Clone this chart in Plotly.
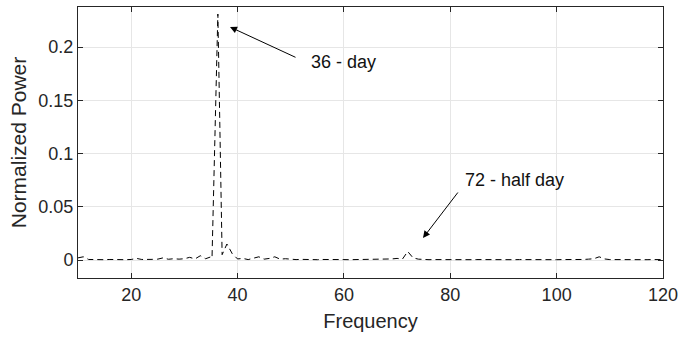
import plotly.graph_objects as go

freq = [10, 11, 12, 13, 14, 15, 16, 17, 18, 19, 20, 21, 22, 23, 24, 25, 26, 27, 28, 29,
        30, 31, 32, 33, 34, 35, 35.2, 36.3, 37.1, 38, 39, 40, 41, 42, 43, 44, 45, 46, 47, 48, 49,
        50, 51, 52, 53, 54, 55, 56, 57, 58, 59, 60, 61, 62, 63, 64, 65, 66, 67, 68, 69,
        70, 71, 72, 73, 74, 75, 76, 77, 78, 79, 80, 81, 82, 83, 84, 85, 86, 87, 88, 89,
        90, 91, 92, 93, 94, 95, 96, 97, 98, 99, 100, 101, 102, 103, 104, 105, 106, 107, 108, 109,
        110, 111, 112, 113, 114, 115, 116, 117, 118, 119, 120]
power = [0.002, 0.003, 0.0005, 0.0003, 0.0004, 0.0003, 0.0005, 0.0003, 0.0004, 0.0003, 0.0005, 0.0015, 0.0005, 0.0003, 0.0006, 0.0008, 0.002, 0.0007, 0.0012, 0.0008,
         0.0012, 0.0025, 0.001, 0.004, 0.0012, 0.003, 0.002, 0.231, 0.005, 0.015, 0.006, 0.001, 0.0015, 0.0004, 0.002, 0.003, 0.0008, 0.0015, 0.003, 0.0008, 0.0012,
         0.0006, 0.0004, 0.0006, 0.0003, 0.0004, 0.0003, 0.0005, 0.0003, 0.0004, 0.0003, 0.0004, 0.0003, 0.0004, 0.0003, 0.0004, 0.0003, 0.0004, 0.0003, 0.0005, 0.001,
         0.0015, 0.0008, 0.008, 0.002, 0.0008, 0.0004, 0.0003, 0.0004, 0.0003, 0.0004, 0.0003, 0.0004, 0.0003, 0.0004, 0.0003, 0.0004, 0.0003, 0.0004, 0.0003, 0.0004,
         0.0003, 0.0004, 0.0003, 0.0004, 0.0003, 0.0004, 0.0003, 0.0004, 0.0003, 0.0004, 0.0003, 0.0004, 0.0003, 0.0004, 0.0003, 0.0005, 0.0008, 0.0012, 0.003, 0.001,
         0.0004, 0.0003, 0.0004, 0.0003, 0.0004, 0.0003, 0.0004, 0.0003, 0.0004, 0.0003, 0.0004]

x_ticks = [20, 40, 60, 80, 100, 120]
y_ticks = [0, 0.05, 0.1, 0.15, 0.2]
y_tick_labels = ["0", "0.05", "0.1", "0.15", "0.2"]

# text, text-left px, text-middle px, arrow tail px (x, y), arrow head px (x, y)
notes = [
    ("36 - day", 309, 62, 297, 58, 230, 27),
    ("72 - half day", 463, 180, 459, 191, 423, 238),
]

fig = go.Figure()
fig.add_trace(go.Scatter(x=freq, y=power, mode="lines",
                         line=dict(color="black", width=1, dash="6px,4px"),
                         showlegend=False, hoverinfo="skip"))

W, H = 678, 337
L, R, T, B = 78, 15, 7, 59
PW, PH = W - L - R, H - T - B
font = "Liberation Sans, Arial, sans-serif"

for text, tx, ty, sx, sy, hx, hy in notes:
    fig.add_annotation(x=(tx - L) / PW, y=1 - (ty - T) / PH,
                       xref="paper", yref="paper", text=text, showarrow=False,
                       xanchor="left", yanchor="middle",
                       font=dict(size=18, color="#111", family=font))
    fig.add_annotation(x=(hx - L) / PW, y=1 - (hy - T) / PH,
                       xref="paper", yref="paper", text="", showarrow=True,
                       axref="pixel", ayref="pixel",
                       ax=sx - hx, ay=sy - hy,
                       arrowhead=2, arrowsize=1.4, arrowwidth=1, arrowcolor="black",
                       standoff=0)

axis_common = dict(showline=True, linecolor="#262626", linewidth=1, mirror="ticks",
                   ticks="inside", ticklen=5, tickcolor="#262626",
                   showgrid=True, gridcolor="#e6e6e6", gridwidth=1, zeroline=False,
                   automargin=False, ticklabeloverflow="allow",
                   tickfont=dict(size=18, color="#262626", family=font))

fig.update_xaxes(range=[10, 120], tickvals=x_ticks, title_text="Frequency",
                 title_font=dict(size=20, color="#262626", family=font),
                 title_standoff=10, **axis_common)
fig.update_yaxes(range=[-0.0169, 0.2376], tickvals=y_ticks, ticktext=y_tick_labels,
                 title_font=dict(size=21, color="#262626", family=font),
                 title_text="Normalized Power", title_standoff=6, **axis_common)

fig.update_layout(width=W, height=H, margin=dict(l=L, r=R, t=T, b=B),
                  plot_bgcolor="white", paper_bgcolor="white")

fig.write_html("out.html")
